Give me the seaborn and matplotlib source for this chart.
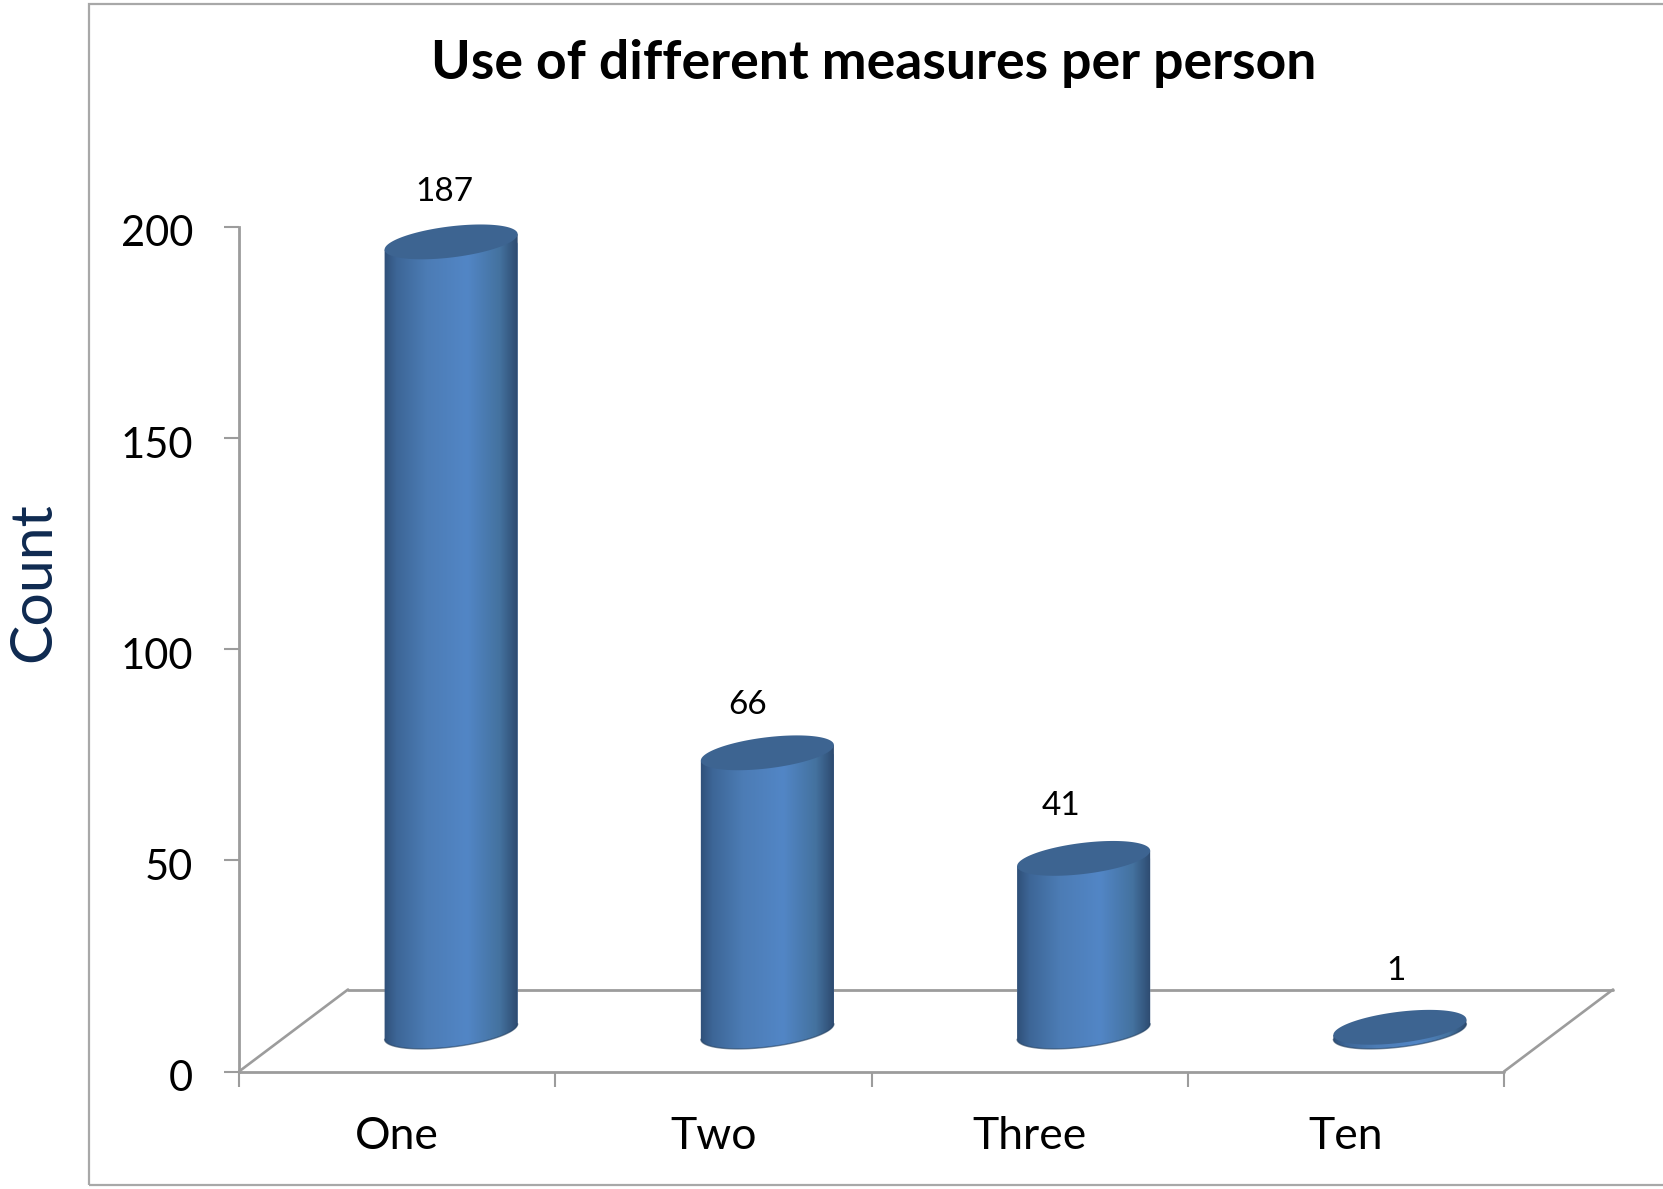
import numpy as np
import matplotlib
matplotlib.use("Agg")
import matplotlib.pyplot as plt
import seaborn as sns
from matplotlib.colors import LinearSegmentedColormap
from matplotlib.patches import Polygon, Rectangle
from matplotlib.path import Path
from matplotlib.transforms import Affine2D, IdentityTransform
from matplotlib.lines import Line2D

categories = ["One", "Two", "Three", "Ten"]
counts = [187, 66, 41, 1]
y_ticks = [0, 50, 100, 150, 200]
title = "Use of different measures per person"
y_label = "Count"

sns.set_theme(style="white")
plt.rcParams["font.family"] = ["Lato", "DejaVu Sans"]

W, H, DPI = 1663, 1189, 100
GRID = "#9C9C9C"
TOP_COLOR = "#3D6491"
shade = LinearSegmentedColormap.from_list(
    "cylinder",
    [(0.0, "#2E4E76"), (0.10, "#3D6697"), (0.32, "#4C7CB5"), (0.62, "#5286C6"),
     (0.86, "#44729F"), (1.0, "#2C486D")],
)

fig = plt.figure(figsize=(W / DPI, H / DPI), dpi=DPI, facecolor="white")
ax = fig.add_axes([239 / W, 1 - 1071.5 / H, (1504 - 239) / W, (1071.5 - 227) / H])
ax.patch.set_alpha(0)

# outer chart frame, open on the right where it runs off the canvas
fig.add_artist(Rectangle((88.5 / W, 1 - 1184.5 / H), 1700 / W, 1180.5 / H,
                         transform=fig.transFigure, fill=False,
                         edgecolor="#A8A8A8", linewidth=1.6))

sns.barplot(x=categories, y=counts, width=0.42, color="#4F81BD", saturation=1, ax=ax)
ax.set_xlim(-0.5, 3.5)
ax.set_ylim(0, 200)

# pixel offsets: full floor depth, and the bars stand half way into it
DEPTH_X, DEPTH_Y = 109, 82
shift = Affine2D().translate(54, 40)
bar_tf = ax.transData + shift
back_tf = ax.transData + Affine2D().translate(DEPTH_X, DEPTH_Y)

# floor outline
ax.add_line(Line2D([-0.5, 3.5], [0, 0], color=GRID, lw=2.0, clip_on=False))
ax.add_line(Line2D([-0.5, 3.5], [0, 0], color=GRID, lw=2.0, clip_on=False, transform=back_tf))
ax0 = ax.transData.transform([(-0.5, 0), (3.5, 0)])
for px, py in ax0:
    fig.add_artist(Line2D([px / W, (px + DEPTH_X) / W],
                          [py / H, (py + DEPTH_Y) / H],
                          color=GRID, lw=1.9, transform=fig.transFigure, zorder=1))


def ellipse_points(cx, cy, a=67, b=15.5, angle=7.0, n=240):
    t = np.linspace(0, 2 * np.pi, n, endpoint=False)
    th = np.radians(angle)
    x = a * np.cos(t) * np.cos(th) - b * np.sin(t) * np.sin(th)
    y = a * np.cos(t) * np.sin(th) + b * np.sin(t) * np.cos(th)
    return np.column_stack([cx + x, cy + y])


def cylinder_outline(base, top):
    lo = int(np.argmin(base[:, 0]))
    hi = int(np.argmax(base[:, 0]))
    n = len(base)
    # lower arc of the base, running left to right through the bottom
    idx = [(lo + i) % n for i in range((hi - lo) % n + 1)]
    lower = base[idx]
    upper = top[[hi, lo]]
    return np.vstack([lower, upper])


gradient = np.linspace(0, 1, 256).reshape(1, -1)
label_offsets = [(-7, 50), (-20, 48), (-23, 52), (-4, 56)]

for bar, value, (ox, oy) in zip(ax.patches, counts, label_offsets):
    x0, w = bar.get_x(), bar.get_width()
    xc = x0 + w / 2
    base_c = bar_tf.transform((xc, 0))
    top_c = bar_tf.transform((xc, value))
    base_pts = ellipse_points(*base_c)
    top_pts = ellipse_points(*top_c)
    outline = cylinder_outline(base_pts, top_pts)
    body = Path(np.vstack([outline, outline[:1]]), closed=True)

    bar.set_transform(bar_tf)
    bar.set_clip_path(body, IdentityTransform())
    bar.set_zorder(3)

    im = ax.imshow(gradient, cmap=shade, aspect="auto", vmin=0, vmax=1,
                   extent=(x0 - 0.005, x0 + w + 0.005, -20, value + 6),
                   transform=bar_tf, zorder=3.1, interpolation="bilinear")
    im.set_clip_path(body, IdentityTransform())
    im.set_clip_on(True)
    im.set_clip_box(None)

    lower = outline[:-2]
    ax.add_line(Line2D(lower[:, 0], lower[:, 1], color="#24405F", lw=1.0, alpha=0.6,
                       transform=IdentityTransform(), zorder=3.2, clip_on=False))
    ax.add_patch(Polygon(top_pts, closed=True, facecolor=TOP_COLOR, edgecolor="none",
                         transform=IdentityTransform(), zorder=3.3, clip_on=False))

    ax.annotate(str(value), xy=(xc, value), xycoords=bar_tf,
                xytext=(ox * 72 / DPI, oy * 72 / DPI), textcoords="offset points",
                ha="center", va="center", fontsize=24, color="black",
                annotation_clip=False, zorder=5)

ax.set_xlim(-0.5, 3.5)
ax.set_ylim(0, 200)

for side in ("top", "right", "bottom"):
    ax.spines[side].set_visible(False)
ax.spines["left"].set_color(GRID)
ax.spines["left"].set_linewidth(2.0)

ax.set_xlabel("")
ax.set_ylabel("")
ax.set_yticks(y_ticks)
ax.set_xticks(range(len(categories)))
ax.set_xticklabels(categories)
ax.set_xticks(np.arange(-0.5, 4), minor=True)
ax.tick_params(axis="x", which="major", length=0, pad=32, labelsize=32, labelcolor="black")
ax.tick_params(axis="x", which="minor", length=11, width=1.5, color=GRID, direction="out", bottom=True)
ax.tick_params(axis="y", which="major", length=11, width=1.5, color=GRID, direction="out",
               left=True, pad=22, labelsize=30, labelcolor="black")
# value labels sit a little below their tick marks
for lab in ax.get_yticklabels():
    lab.set_transform(lab.get_transform() + Affine2D().translate(0, -4))

fig.text(874 / W, 1 - 63 / H, title, ha="center", va="center",
         fontsize=38.5, fontweight="bold", color="black")
fig.text(34 / W, 1 - 582 / H, y_label, ha="center", va="center", rotation=90,
         fontsize=42.5, color="#0F2A50")

fig.savefig("out.png", dpi=DPI, facecolor="white")
